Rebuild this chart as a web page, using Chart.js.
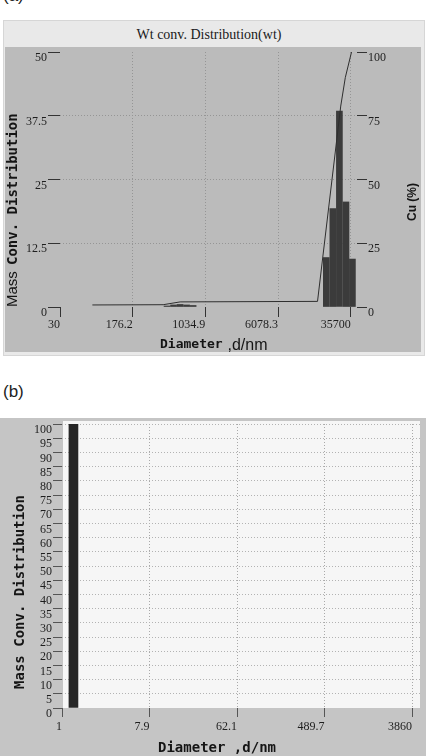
<!DOCTYPE html>
<html>
<head>
<meta charset="utf-8">
<script src="https://cdn.jsdelivr.net/npm/chart.js@4"></script>
<style>
  html, body { margin: 0; padding: 0; background: #fff; }
  body { position: relative; width: 432px; height: 756px; overflow: hidden; font-family: 'Liberation Sans', Arial, sans-serif; }
  .abs { position: absolute; }
  .panel-label { font-size: 17px; color: #222; left: 3px; }
  #frameA { left: 3px; top: 20px; width: 422px; height: 336px; background: #e9e9e9; border: 1px solid #d6d6d6; box-sizing: border-box; }
  #plotA { left: 5px; top: 47px; width: 416px; height: 305px; background: #bbbbbb; }
  #titleA { left: 3px; top: 27px; width: 412px; text-align: center; font: 14px 'Liberation Serif', serif; color: #1a1a1a; line-height: 16px; }
  #frameB { left: 0; top: 418px; width: 426px; height: 338px; background: #c5c5c5; }
  #wrapA { left: 0; top: 0; }
  #wrapB { left: 0; top: 400px; }
</style>
</head>
<body>
<div class="abs panel-label" style="top:-14px">(a)</div>
<div class="abs" id="frameA"></div>
<div class="abs" id="plotA"></div>
<div class="abs" id="titleA">Wt conv. Distribution(wt)</div>
<div class="abs panel-label" style="top:382px">(b)</div>
<div class="abs" id="frameB"></div>
<div class="abs" id="wrapA"><canvas id="chartA" width="432" height="360"></canvas></div>
<div class="abs" id="wrapB"><canvas id="chartB" width="432" height="356"></canvas></div>

<script>
// ---- panel (a) data ----
const aTickValues = [30, 176.2, 1034.9, 6078.3, 35700];
const aTickLabels = ['30', '176.2', '1034.9', '6078.3', '35700'];
const aLeftTicks = [0, 12.5, 25, 37.5, 50];
const aRightTicks = [0, 25, 50, 75, 100];
const aBinDiameters = [407, 477, 559, 655, 768, 19700, 23100, 27100, 31800, 37200];
const aMassValues = [0.2, 0.4, 0.5, 0.4, 0.3, 9.7, 19.3, 38.4, 20.6, 9.4];
const aCumDiameters = [66, 370, 560, 15900, 28000, 31300, 36400];
const aCumValues = [0.8, 0.9, 2.0, 2.2, 78.8, 90, 100];

// ---- panel (b) data ----
const bTickValues = [1, 7.9, 62.1, 489.7, 3860];
const bTickLabels = ['1', '7.9', '62.1', '489.7', '3860'];
const bLeftTicks = [0, 5, 10, 15, 20, 25, 30, 35, 40, 45, 50, 55, 60, 65, 70, 75, 80, 85, 90, 95, 100];
const bBinDiameters = [1.31];
const bMassValues = [100];

const serif = { family: "'Liberation Serif', 'Times New Roman', serif", size: 12 };
const monoBold = "bold 14px 'DejaVu Sans Mono', monospace";

// draws free text (axis titles) onto the canvas
const freeText = {
    id: 'freeText',
    afterDraw(chart, args, opts) {
        const ctx = chart.ctx;
        (opts.items || []).forEach(it => {
            ctx.save();
            ctx.translate(it.x, it.y);
            if (it.rotate) ctx.rotate(it.rotate);
            ctx.font = it.font;
            ctx.fillStyle = it.color || '#151515';
            ctx.textAlign = it.align || 'left';
            ctx.textBaseline = 'middle';
            ctx.fillText(it.text, 0, 0);
            ctx.restore();
        });
    }
};

// fills the plot area
const plotBg = {
    id: 'plotBg',
    beforeDraw(chart, args, opts) {
        if (!opts.color) return;
        const { ctx, chartArea: a } = chart;
        ctx.save();
        ctx.fillStyle = opts.color;
        ctx.fillRect(a.left + 1, a.top - 3, a.right - a.left - 1, a.bottom - a.top + 3);
        ctx.restore();
    }
};

function fixTicks(values) {
    return function (scale) { scale.ticks = values.map(v => ({ value: v })); };
}

function toPoints(xs, ys) {
    return xs.map((x, i) => ({ x: x, y: ys[i] }));
}

// ---------- chart (a) ----------
new Chart(document.getElementById('chartA'), {
    type: 'bar',
    data: {
        datasets: [
            {
                type: 'line',
                data: toPoints(aCumDiameters, aCumValues),
                yAxisID: 'y2',
                borderColor: '#2e2e2e',
                borderWidth: 1,
                pointRadius: 0,
                tension: 0,
                order: 1
            },
            {
                type: 'bar',
                data: toPoints(aBinDiameters, aMassValues),
                yAxisID: 'y',
                backgroundColor: '#3b3b3b',
                barThickness: 6,
                order: 2
            }
        ]
    },
    options: {
        responsive: false,
        animation: false,
        layout: { padding: { top: 52, left: 0, right: 0, bottom: 0 } },
        plugins: {
            legend: { display: false },
            tooltip: { enabled: false },
            freeText: {
                items: [
                    { text: 'Mass', x: 13, y: 307, rotate: -Math.PI / 2, font: "15px 'Liberation Sans', sans-serif" },
                    { text: 'Conv. Distribution', x: 13, y: 265, rotate: -Math.PI / 2, font: monoBold },
                    { text: 'Diameter', x: 160, y: 345, font: "bold 13px 'DejaVu Sans Mono', monospace" },
                    { text: ' ,d/nm', x: 223, y: 346, font: "16px 'Liberation Sans', sans-serif" },
                    { text: 'Cu (%)', x: 413, y: 202, rotate: -Math.PI / 2, align: 'center', font: "bold 12px 'Liberation Sans', sans-serif" }
                ]
            }
        },
        scales: {
            x: {
                type: 'logarithmic',
                min: 30,
                max: 41600,
                offset: false,
                afterBuildTicks: fixTicks(aTickValues),
                afterFit: s => { s.height = 53; },
                ticks: { autoSkip: false, maxRotation: 0, align: 'end', padding: 1, font: serif, color: '#1e1e1e',
                         callback: (v, i) => aTickLabels[i] },
                grid: { offset: false, color: c => c.index === 0 ? 'rgba(0,0,0,0)' : '#959595', tickColor: '#333', tickLength: 10 },
                border: { display: false, dash: [1, 2] }
            },
            y: {
                position: 'left',
                min: 0,
                max: 50,
                afterBuildTicks: fixTicks(aLeftTicks),
                afterFit: s => { s.width = 60; },
                ticks: { autoSkip: false, font: serif, color: '#1e1e1e', padding: 1, labelOffset: 6, callback: v => String(v) },
                grid: { color: c => (c.tick && (c.tick.value === 0 || c.tick.value === 50)) ? 'rgba(0,0,0,0)' : '#959595', tickColor: '#333', tickLength: 12 },
                border: { display: false, dash: [1, 2] }
            },
            y2: {
                position: 'right',
                min: 0,
                max: 100,
                afterBuildTicks: fixTicks(aRightTicks),
                afterFit: s => { s.width = 75; },
                ticks: { autoSkip: false, font: serif, color: '#1e1e1e', padding: 1, labelOffset: 6, callback: v => String(v) },
                grid: { drawOnChartArea: false, tickColor: '#333', tickLength: 10 },
                border: { display: false }
            }
        }
    },
    plugins: [freeText]
});

// ---------- chart (b) ----------
new Chart(document.getElementById('chartB'), {
    type: 'bar',
    data: {
        datasets: [{
            data: toPoints(bBinDiameters, bMassValues),
            backgroundColor: '#262626',
            barThickness: 9
        }]
    },
    options: {
        responsive: false,
        animation: false,
        layout: { padding: { top: 24, left: 0, right: 12, bottom: 0 } },
        plugins: {
            legend: { display: false },
            tooltip: { enabled: false },
            plotBg: { color: '#f6f6f6' },
            freeText: {
                items: [
                    { text: 'Mass Conv. Distribution', x: 20, y: 192, rotate: -Math.PI / 2, align: 'center', font: monoBold },
                    { text: 'Diameter ,d/nm', x: 158, y: 348, font: monoBold }
                ]
            }
        },
        scales: {
            x: {
                type: 'logarithmic',
                min: 1,
                max: 4650,
                offset: false,
                afterBuildTicks: fixTicks(bTickValues),
                afterFit: s => { s.height = 48; },
                ticks: { autoSkip: false, maxRotation: 0, align: 'end', padding: 3, font: serif, color: '#1e1e1e',
                         callback: (v, i) => bTickLabels[i] },
                grid: { offset: false, color: c => c.index === 0 ? 'rgba(0,0,0,0)' : '#a9a9a9', tickColor: '#555', tickLength: 9 },
                border: { display: false, dash: [1, 2] }
            },
            y: {
                min: 0,
                max: 100,
                afterBuildTicks: fixTicks(bLeftTicks),
                afterFit: s => { s.width = 62; },
                ticks: { autoSkip: false, font: serif, color: '#1e1e1e', padding: 1, labelOffset: 6, callback: v => String(v) },
                grid: { color: c => (c.tick && c.tick.value === 0) ? 'rgba(0,0,0,0)' : '#b3b3b3', tickColor: '#555', tickLength: 9 },
                border: { display: false, dash: [1, 2] }
            }
        }
    },
    plugins: [plotBg, freeText]
});
</script>
</body>
</html>
